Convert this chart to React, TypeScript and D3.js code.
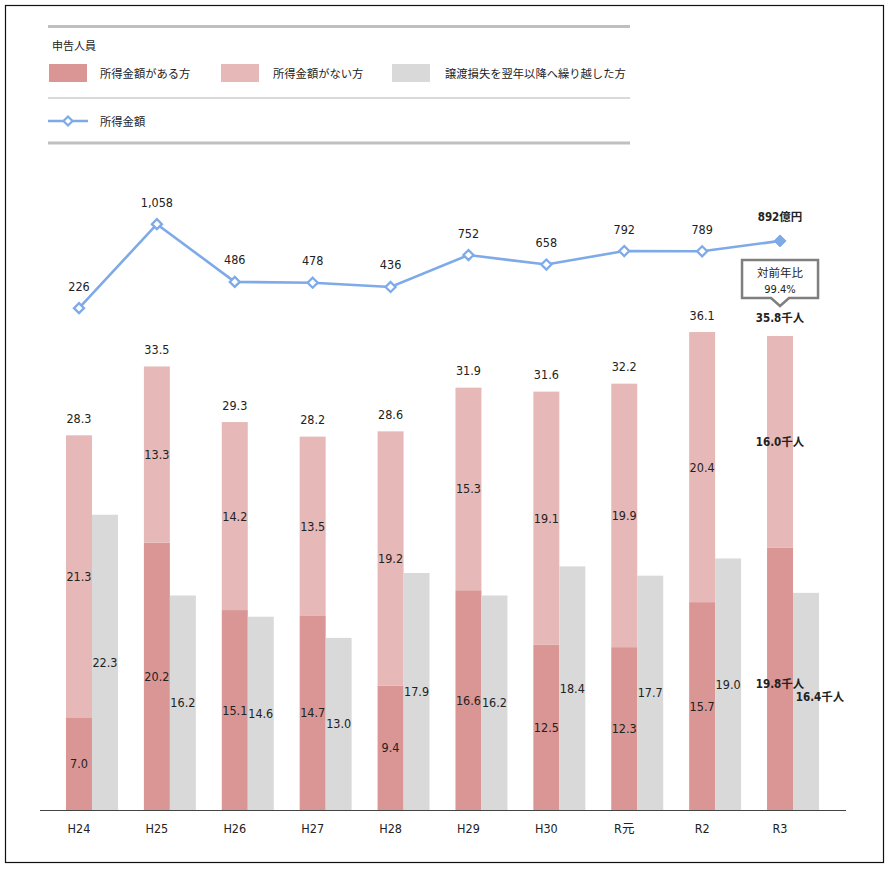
import React from 'react';
import * as d3 from 'd3';

const categories = ['H24', 'H25', 'H26', 'H27', 'H28', 'H29', 'H30', 'R元', 'R2', 'R3'];
const withIncome = [7.0, 20.2, 15.1, 14.7, 9.4, 16.6, 12.5, 12.3, 15.7, 19.8];
const withoutIncome = [21.3, 13.3, 14.2, 13.5, 19.2, 15.3, 19.1, 19.9, 20.4, 16.0];
const carryOver = [22.3, 16.2, 14.6, 13.0, 17.9, 16.2, 18.4, 17.7, 19.0, 16.4];
const incomeAmount = [226, 1058, 486, 478, 436, 752, 658, 792, 789, 892];
const legendSeries = ['所得金額がある方', '所得金額がない方', '譲渡損失を翌年以降へ繰り越した方'];
const lineLegend = '所得金額';
const groupTitle = '申告人員';
const yoyLabel = '対前年比';
const yoyValue = '99.4%';

const C_DARK = '#d99694';
const C_LIGHT = '#e6b9b8';
const C_GRAY = '#d9d9d9';
const C_LINE = '#7eaae8';
const NUM_FONT = "'DejaVu Sans Condensed', 'DejaVu Sans', 'Noto Sans CJK JP', sans-serif";
const JP_FONT = "'Noto Sans CJK JP', sans-serif";
const TXT = '#222';
const NUM_SIZE = 12.5;

export default function App() {
  const W = 891, H = 870;
  const baseY = 810;
  const x = d3.scaleBand<string>().domain(categories).range([66, 819]).paddingInner(0.333).paddingOuter(0);
  const sub = d3.scaleBand<string>().domain(['a', 'b']).range([0, x.bandwidth()]).padding(0);
  const y = d3.scaleLinear().domain([0, 40]).range([baseY, baseY - 40 * 13.24]);
  const yl = d3.scaleLinear().domain([0, 1100]).range([331, 219.9]);
  const bw = sub.bandwidth();
  const last = categories.length - 1;

  const cx = (i: number) => (x(categories[i]) as number) + (sub('a') as number) + bw / 2;
  const gx = (i: number) => (x(categories[i]) as number) + (sub('b') as number) + bw / 2;

  const lineGen = d3.line<number>().x((_, i) => cx(i)).y((d) => yl(d));
  const fmt = d3.format(',');

  const diamond = (px: number, py: number, r: number) =>
    `M${px},${py - r}L${px + r},${py}L${px},${py + r}L${px - r},${py}Z`;

  return (
    <svg width={W} height={H} style={{ position: 'absolute', left: 0, top: 0, background: '#fff' }}>
      <rect x={5.5} y={5.5} width={878} height={857} fill="#fff" stroke="#111" strokeWidth={1.2} />

      {/* legend */}
      <line x1={48} x2={630} y1={26.5} y2={26.5} stroke="#bfbfbf" strokeWidth={3} />
      <text x={52} y={45} dominantBaseline="central" fontFamily={JP_FONT} fontSize={11} fill={TXT}>{groupTitle}</text>
      {[[49, 100], [221, 273], [392, 445]].map(([sx, tx], i) => (
        <g key={i}>
          <rect x={sx} y={64} width={38} height={18} fill={[C_DARK, C_LIGHT, C_GRAY][i]} />
          <text x={tx} y={73} dominantBaseline="central" fontFamily={JP_FONT} fontSize={11.3} fill={TXT}>{legendSeries[i]}</text>
        </g>
      ))}
      <line x1={48} x2={630} y1={98} y2={98} stroke="#d9d9d9" strokeWidth={2} />
      <line x1={48} x2={88} y1={121} y2={121} stroke={C_LINE} strokeWidth={2.5} />
      <path d={diamond(68, 121, 4.5)} fill="#fff" stroke={C_LINE} strokeWidth={2.2} />
      <text x={100} y={121} dominantBaseline="central" fontFamily={JP_FONT} fontSize={11.3} fill={TXT}>{lineLegend}</text>
      <line x1={48} x2={630} y1={143} y2={143} stroke="#bfbfbf" strokeWidth={3} />

      {/* bars */}
      {categories.map((c, i) => {
        const x0 = (x(c) as number) + (sub('a') as number);
        const x1 = (x(c) as number) + (sub('b') as number);
        const total = withIncome[i] + withoutIncome[i];
        return (
          <g key={c}>
            <rect x={x0} y={y(withIncome[i])} width={bw} height={baseY - y(withIncome[i])} fill={C_DARK} />
            <rect x={x0} y={y(total)} width={bw} height={y(withIncome[i]) - y(total)} fill={C_LIGHT} />
            <rect x={x1} y={y(carryOver[i])} width={bw} height={baseY - y(carryOver[i])} fill={C_GRAY} />
          </g>
        );
      })}

      {/* bar labels */}
      {categories.map((c, i) => {
        const total = withIncome[i] + withoutIncome[i];
        const isLast = i === last;
        const fw = isLast ? 'bold' : 'normal';
        const suf = isLast ? '千人' : '';
        const fs = isLast ? 11.5 : NUM_SIZE;
        return (
          <g key={c} fontFamily={NUM_FONT} fontSize={fs} fill={TXT} textAnchor="middle">
            <text x={cx(i)} y={(y(withIncome[i]) + baseY) / 2 + (isLast ? 5 : 0)} dominantBaseline="central" fontWeight={fw}>
              {withIncome[i].toFixed(1) + suf}
            </text>
            <text x={cx(i)} y={(y(total) + y(withIncome[i])) / 2} dominantBaseline="central" fontWeight={fw}>
              {withoutIncome[i].toFixed(1) + suf}
            </text>
            <text x={gx(i) + (isLast ? 14 : 0)} y={(y(carryOver[i]) + baseY) / 2 - (isLast ? 4 : 0)} dominantBaseline="central" fontWeight={fw}>
              {carryOver[i].toFixed(1) + suf}
            </text>
            <text x={cx(i)} y={y(total) - (isLast ? 18 : 17)} dominantBaseline="central" fontWeight={fw}>
              {total.toFixed(1) + suf}
            </text>
          </g>
        );
      })}

      {/* axis */}
      <line x1={40} x2={846} y1={baseY + 0.5} y2={baseY + 0.5} stroke="#444" strokeWidth={1.2} />
      {categories.map((c, i) => (
        <text key={c} x={cx(i)} y={828} dominantBaseline="central" textAnchor="middle" fontFamily={NUM_FONT} fontSize={NUM_SIZE} fill={TXT}>{c}</text>
      ))}

      {/* line */}
      <path d={lineGen(incomeAmount) || ''} fill="none" stroke={C_LINE} strokeWidth={2.6} />
      {incomeAmount.map((v, i) =>
        i === last ? (
          <path key={i} d={diamond(cx(i), yl(v), 6)} fill={C_LINE} stroke={C_LINE} strokeWidth={1} />
        ) : (
          <path key={i} d={diamond(cx(i), yl(v), 5)} fill="#fff" stroke={C_LINE} strokeWidth={2.3} />
        )
      )}
      {incomeAmount.map((v, i) => (
        <text key={i} x={cx(i)} y={yl(v) - (i === last ? 24 : 22)} dominantBaseline="central" textAnchor="middle"
          fontFamily={NUM_FONT} fontSize={i === last ? 11.5 : NUM_SIZE} fill={TXT} fontWeight={i === last ? 'bold' : 'normal'}>
          {i === last ? `${v}億円` : fmt(v)}
        </text>
      ))}

      {/* callout */}
      <path
        d={`M${cx(last) - 38},260 H${cx(last) + 38} V298 H${cx(last) + 9} L${cx(last)},306 L${cx(last) - 9},298 H${cx(last) - 38} Z`}
        fill="#fff" stroke="#7f7f7f" strokeWidth={2.5} strokeLinejoin="miter" />
      <text x={cx(last)} y={272} dominantBaseline="central" textAnchor="middle" fontFamily={JP_FONT} fontSize={11.5} fill={TXT}>{yoyLabel}</text>
      <text x={cx(last)} y={289} dominantBaseline="central" textAnchor="middle" fontFamily={NUM_FONT} fontSize={11} fill={TXT}>{yoyValue}</text>
    </svg>
  );
}
